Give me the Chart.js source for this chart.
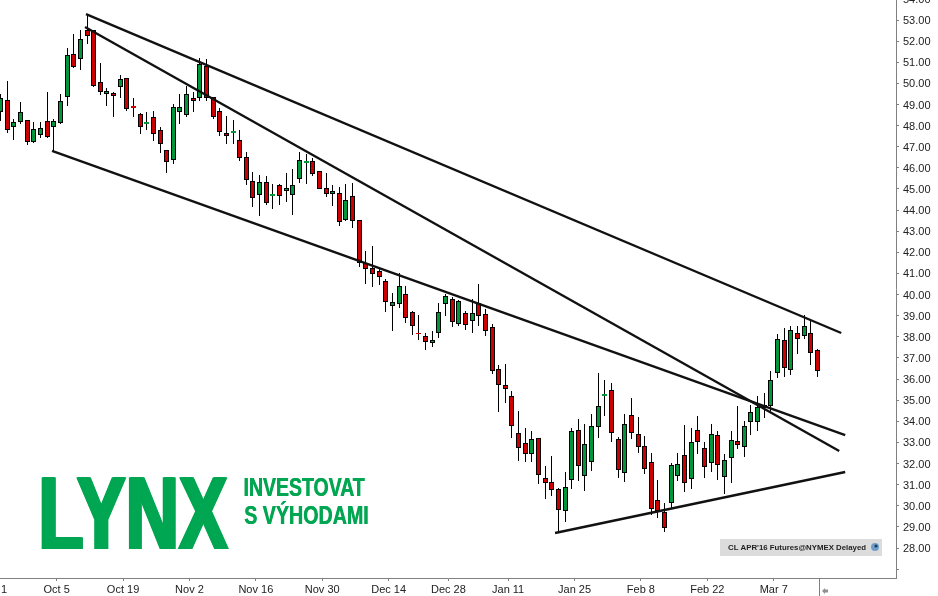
<!DOCTYPE html>
<html lang="en">
  <head>
    <meta charset="UTF-8" />
    <title>CL APR'16 Futures</title>
    <script src="https://cdn.jsdelivr.net/npm/chart.js@4.5.0/dist/chart.umd.min.js"></script>
    <style>
      html, body { margin: 0; padding: 0; background: #fff; overflow: hidden; }
      canvas { display: block; }
    </style>
  </head>
  <body>
    <canvas id="myChart" width="938" height="596"></canvas>

    <script>
      const opens = [
        48.64, 49.21, 47.93, 48.17, 48.27, 47.22, 47.55, 48.22, 47.93, 48.12,
        49.35, 51.39, 51.15, 52.53, 52.53, 50.06, 49.50, 49.54, 49.83, 50.25,
        48.93, 48.55, 48.08, 48.41, 47.79, 46.85, 46.37, 48.64, 48.50, 49.31,
        49.31, 50.82, 49.35, 48.69, 47.65, 47.65, 47.32, 46.51, 45.38, 44.71,
        45.33, 44.67, 45.19, 44.90, 44.71, 45.47, 46.23, 46.32, 45.85, 45.05,
        44.76, 44.81, 43.53, 44.67, 43.53, 41.49, 41.26, 41.12, 40.64, 39.46,
        39.55, 40.03, 39.17, 38.18, 38.04, 37.71, 38.18, 39.55, 39.79, 38.60,
        39.13, 38.75, 39.60, 39.08, 38.46, 36.47, 35.72, 35.20, 33.45, 32.97,
        32.45, 33.21, 31.31, 31.12, 30.79, 29.75, 31.22, 33.59, 31.41, 32.07,
        33.73, 35.20, 35.48, 33.16, 31.55, 34.30, 33.40, 32.83, 32.07, 30.27,
        29.70, 30.13, 31.41, 32.40, 31.27, 33.59, 32.73, 32.02, 33.35, 31.36,
        32.26, 33.07, 32.78, 33.96, 33.96, 34.77, 34.72, 36.29, 37.85, 36.43,
        38.18, 38.04, 38.18, 37.37,
      ];
      const highs = [
        49.50, 50.11, 48.31, 49.12, 48.27, 48.17, 48.17, 49.59, 48.31, 49.50,
        51.67, 52.34, 52.53, 53.28, 52.53, 50.96, 49.78, 49.59, 50.40, 50.25,
        49.31, 48.60, 48.64, 48.69, 47.93, 46.85, 49.02, 49.50, 49.87, 49.59,
        51.20, 51.15, 49.35, 48.83, 48.45, 48.27, 47.79, 46.75, 45.80, 45.66,
        45.61, 45.24, 45.24, 45.76, 45.95, 46.75, 46.65, 46.47, 45.85, 45.76,
        45.19, 45.09, 45.24, 45.28, 43.53, 42.06, 42.30, 41.26, 40.74, 40.07,
        41.02, 40.40, 39.22, 39.03, 38.18, 38.27, 39.60, 40.03, 39.88, 39.74,
        39.22, 39.79, 40.50, 39.32, 38.61, 36.66, 36.71, 35.43, 34.49, 33.68,
        33.54, 33.21, 31.88, 32.36, 30.84, 31.60, 33.68, 34.11, 33.87, 34.35,
        36.29, 35.95, 35.81, 33.26, 34.35, 35.10, 34.20, 33.30, 32.50, 31.22,
        30.13, 32.02, 32.50, 33.82, 33.68, 34.25, 33.02, 33.87, 33.54, 32.45,
        33.54, 34.72, 34.01, 34.77, 35.20, 35.34, 36.38, 38.13, 38.42, 38.51,
        38.51, 39.03, 38.75, 37.42,
      ];
      const lows = [
        48.22, 47.65, 47.32, 48.08, 47.08, 47.18, 47.41, 47.41, 46.80, 48.08,
        48.93, 50.73, 50.63, 51.86, 49.83, 49.45, 48.93, 48.41, 49.31, 48.69,
        48.41, 47.60, 47.79, 47.27, 46.70, 45.76, 46.18, 48.08, 48.41, 48.64,
        49.17, 49.17, 48.31, 47.51, 47.13, 47.13, 46.32, 45.19, 44.15, 43.72,
        44.24, 44.05, 44.24, 44.38, 43.77, 45.28, 45.24, 45.61, 45.00, 44.62,
        44.19, 43.24, 43.48, 43.15, 41.30, 40.50, 40.36, 40.45, 39.17, 38.27,
        39.36, 38.65, 38.09, 37.85, 37.37, 37.52, 37.94, 38.98, 38.46, 38.51,
        38.32, 38.18, 38.51, 38.04, 36.24, 34.44, 34.87, 33.21, 32.12, 32.07,
        32.07, 31.03, 30.32, 30.46, 28.71, 29.23, 30.79, 31.17, 30.70, 31.65,
        33.21, 34.25, 33.02, 31.31, 31.12, 33.16, 32.50, 31.50, 29.56, 29.42,
        28.76, 29.89, 31.17, 30.65, 30.79, 32.45, 31.31, 31.60, 31.22, 30.56,
        31.08, 32.69, 32.31, 33.35, 33.54, 34.15, 34.49, 36.05, 36.10, 36.19,
        37.19, 37.90, 36.66, 36.10,
      ];
      const closes = [
        49.31, 47.79, 48.17, 48.64, 47.22, 47.84, 47.89, 47.46, 48.22, 49.17,
        51.34, 50.77, 52.10, 52.24, 49.87, 49.59, 49.64, 49.40, 50.21, 48.79,
        48.83, 47.93, 48.17, 47.60, 47.13, 46.28, 48.88, 48.88, 49.50, 49.17,
        50.92, 49.31, 48.41, 47.70, 47.51, 47.74, 46.47, 45.42, 44.57, 45.33,
        44.33, 44.76, 44.67, 45.05, 45.19, 46.37, 46.32, 45.71, 45.00, 44.76,
        44.90, 43.43, 44.48, 43.48, 41.49, 41.21, 40.97, 40.83, 39.65, 39.65,
        40.40, 38.89, 38.51, 38.11, 37.75, 37.85, 39.17, 39.93, 38.70, 39.70,
        38.56, 39.13, 38.98, 38.27, 36.38, 35.72, 35.53, 33.78, 32.73, 32.45,
        33.16, 31.46, 31.08, 30.75, 29.80, 30.89, 33.54, 31.88, 32.92, 33.78,
        34.72, 35.29, 33.45, 31.69, 33.87, 33.45, 32.78, 31.74, 29.85, 29.75,
        28.95, 31.93, 31.98, 31.08, 33.02, 33.02, 31.83, 33.40, 31.93, 32.17,
        33.11, 32.88, 33.78, 34.44, 34.67, 34.63, 35.95, 37.90, 36.52, 38.32,
        37.90, 38.51, 37.23, 36.38,
      ];

      // the first label is cut by the left edge of the picture, only "1" shows
      const tickLabels = ["1", "Oct 5", "Oct 19", "Nov 2", "Nov 16", "Nov 30", "Dec 14", "Dec 28", "Jan 11", "Jan 25", "Feb 8", "Feb 22", "Mar 7"];
      const tickIndex = [0.5, 8.43, 18.43, 28.43, 38.43, 48.43, 58.43, 67.43, 76.43, 86.43, 96.43, 106.43, 116.43];
      const priceTicks = [27, 28, 29, 30, 31, 32, 33, 34, 35, 36, 37, 38, 39, 40, 41, 42, 43, 44, 45, 46, 47, 48, 49, 50, 51, 52, 53, 54];

      // trend lines, [candle index, price] at each end
      const trendChannelTop = [[12.85, 53.28], [126.6, 38.18]];
      const trendSteep = [[12.7, 52.67], [126.3, 32.59]];
      const trendChannelLow = [[7.73, 46.8], [127.2, 33.35]];
      const trendSupport = [[83.5, 28.71], [127.2, 31.6]];

      const upColor = "#009639";
      const downColor = "#cc0000";
      const logoColor = "#00a651";

      const candles = closes.map((c, i) => i);
      const lineData = (pts) => pts.map((p) => ({ x: p[0], y: p[1] }));
      const trendLine = (pts) => ({
        type: "line",
        data: lineData(pts),
        borderColor: "#111",
        borderWidth: 2.4,
        pointRadius: 0,
        order: 0,
      });
      // very small bodies have no black outline
      const isDoji = (i) => Math.abs(opens[i] - closes[i]) < 0.105;

      // snap candles to whole pixels, the picture has no blurred edges
      const snapBars = {
        id: "snapBars",
        afterDatasetsUpdate(chart) {
          [0, 1].forEach((d) => {
            chart.getDatasetMeta(d).data.forEach((bar) => {
              bar.x = Math.floor(bar.x) + 0.5;
              bar.y = Math.round(bar.y);
              bar.base = Math.round(bar.base);
            });
          });
        },
      };

      function fitText(ctx, text, x, baseline, width, capHeight, thicken) {
        ctx.save();
        ctx.font = "bold " + capHeight / 0.688 + 'px "Liberation Sans", Arial, sans-serif';
        const m = ctx.measureText(text);
        const inkWidth = m.actualBoundingBoxRight + m.actualBoundingBoxLeft;
        const scaleX = (width - thicken) / inkWidth;
        ctx.fillStyle = logoColor;
        for (let k = 0; k <= thicken; k += 0.5) {
          ctx.save();
          ctx.translate(x + k + m.actualBoundingBoxLeft * scaleX, baseline);
          ctx.scale(scaleX, 1);
          ctx.fillText(text, 0, 0);
          ctx.restore();
        }
        ctx.restore();
      }

      const extras = {
        id: "extras",
        afterDraw(chart) {
          const ctx = chart.ctx;
          // logo
          ctx.textAlign = "left";
          ctx.textBaseline = "alphabetic";
          fitText(ctx, "LYNX", 41, 549, 188, 71, 3.5);
          fitText(ctx, "INVESTOVAT", 244, 496, 121, 18, 0.5);
          fitText(ctx, "S VÝHODAMI", 244, 524, 124, 18, 0.5);

          // delayed quote box
          ctx.fillStyle = "#dcdcdc";
          ctx.fillRect(720, 539, 162, 17);
          ctx.fillStyle = "#222";
          ctx.font = 'bold 8px "Liberation Sans", Arial, sans-serif';
          ctx.textBaseline = "middle";
          ctx.fillText("CL APR'16 Futures@NYMEX Delayed", 728, 548, 138);
          ctx.fillStyle = "#6f9fc8";
          ctx.beginPath();
          ctx.arc(875, 547, 4, 0, Math.PI * 2);
          ctx.fill();
          ctx.fillStyle = "#1d3f5c";
          ctx.beginPath();
          ctx.arc(876, 546, 1.6, 0, Math.PI * 2);
          ctx.fill();

          // end of data separator and scroll arrow
          ctx.strokeStyle = "#808080";
          ctx.lineWidth = 1;
          ctx.beginPath();
          ctx.moveTo(819.5, 578);
          ctx.lineTo(819.5, 596);
          ctx.stroke();
          ctx.fillStyle = "#909090";
          ctx.beginPath();
          ctx.moveTo(822, 591);
          ctx.lineTo(825, 588);
          ctx.lineTo(825, 589.5);
          ctx.lineTo(828, 589.5);
          ctx.lineTo(828, 592.5);
          ctx.lineTo(825, 592.5);
          ctx.lineTo(825, 594);
          ctx.closePath();
          ctx.fill();
        },
      };

      const ctx = document.getElementById("myChart");

      new Chart(ctx, {
        type: "bar",
        data: {
          datasets: [
            {
              // wicks
              data: candles.map((i) => ({ x: i, y: [lows[i], highs[i]] })),
              backgroundColor: "#000",
              borderWidth: 0,
              barThickness: 1,
              grouped: false,
              inflateAmount: 0,
              order: 2,
            },
            {
              // bodies
              data: candles.map((i) => ({ x: i, y: [opens[i], closes[i]] })),
              backgroundColor: candles.map((i) => (closes[i] >= opens[i] ? upColor : downColor)),
              borderColor: "#000",
              borderWidth: candles.map((i) => (isDoji(i) ? 0 : 1)),
              borderSkipped: false,
              barThickness: 5,
              grouped: false,
              inflateAmount: 0,
              order: 1,
            },
            trendLine(trendChannelTop),
            trendLine(trendSteep),
            trendLine(trendChannelLow),
            trendLine(trendSupport),
          ],
        },
        options: {
          responsive: false,
          animation: false,
          events: [],
          layout: { padding: 0 },
          plugins: { legend: { display: false }, tooltip: { enabled: false } },
          scales: {
            x: {
              type: "linear",
              offset: false,
              min: -0.105,
              max: 134.85,
              grid: {
                offset: false,
                drawOnChartArea: false,
                color: "#808080",
                tickColor: (c) => (c.index === 0 ? "transparent" : "#808080"),
                tickLength: 3,
              },
              border: { color: "#808080" },
              ticks: {
                autoSkip: false,
                maxRotation: 0,
                padding: 2,
                color: "#222",
                font: { family: '"Liberation Sans", Arial, sans-serif', size: 11 },
                callback: (value, index) => tickLabels[index],
              },
              afterBuildTicks: (scale) => {
                scale.ticks = tickIndex.map((v) => ({ value: v }));
              },
              afterFit: (scale) => {
                scale.height = 18;
                scale.paddingLeft = 0;
                scale.paddingRight = 0;
              },
            },
            y: {
              position: "right",
              min: 26.58,
              max: 53.947,
              grid: { drawOnChartArea: false, color: "#808080", tickLength: 3 },
              border: { color: "#808080" },
              ticks: {
                padding: 4,
                color: "#222",
                // two line label with a 2px line height moves the text 1px down
                font: { family: '"Liberation Sans", Arial, sans-serif', size: 11, lineHeight: "2px" },
                callback: (value) => (value === 27 ? "" : ["", value.toFixed(2)]),
              },
              afterBuildTicks: (scale) => {
                scale.ticks = priceTicks.map((v) => ({ value: v }));
              },
              afterFit: (scale) => {
                scale.width = 42;
                scale.paddingTop = 0;
                scale.paddingBottom = 0;
              },
            },
          },
        },
        plugins: [snapBars, extras],
      });
    </script>
  </body>
</html>
